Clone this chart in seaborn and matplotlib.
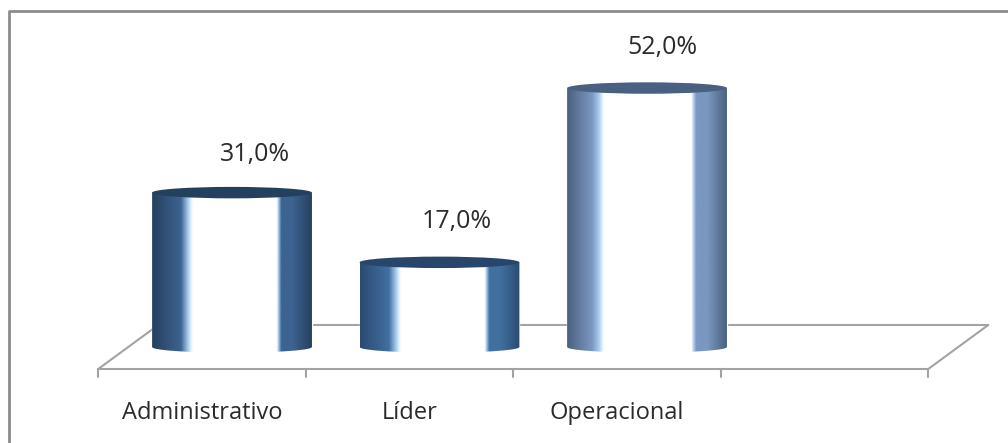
import matplotlib
matplotlib.use("Agg")
import matplotlib.pyplot as plt
import numpy as np
import pandas as pd
import seaborn as sns
from matplotlib.colors import LinearSegmentedColormap
from matplotlib.lines import Line2D
from matplotlib.patches import Ellipse, Polygon, Rectangle
from matplotlib.transforms import Affine2D

categories = ["Administrativo", "Líder", "Operacional"]
values = [31.0, 17.0, 52.0]
value_labels = ["31,0%", "17,0%", "52,0%"]

# colours of each cylinder: edge, body, cap
edge_colors = ["#26405f", "#2b4a72", "#4b6080"]
body_colors = ["#3d6391", "#41709f", "#7a97c0"]
cap_colors = ["#24405f", "#28466b", "#4a6080"]
white_start = [0.255, 0.255, 0.23]
label_dx = [23, 17, 15]
label_dy = [38, 41, 40.5]

GREY = "#a3a3a3"
FRAME = "#8c8c8c"
TEXT = "#2b2b2b"
DEPTH_X = 30  # px, half depth of the floor
DEPTH_Y = 22

sns.set_theme(style="white")
plt.rcParams["font.family"] = ["Open Sans", "DejaVu Sans"]

df = pd.DataFrame({"category": categories, "value": values})

fig = plt.figure(figsize=(10.08, 4.43), dpi=100)
ax = fig.add_axes([128.25 / 1008, 96 / 443, 830 / 1008, 298.8 / 443])
ax.patch.set_alpha(0)

sns.barplot(data=df, x="category", y="value", hue="category", palette=body_colors,
            order=categories, width=0.77, dodge=False, legend=False, ax=ax, zorder=2)

bars = [p for p in ax.patches if isinstance(p, Rectangle)]
cap_h = 2.3
for i, bar in enumerate(bars):
    x0, w, h = bar.get_x(), bar.get_width(), bar.get_height()
    ws = white_start[i]
    cmap = LinearSegmentedColormap.from_list("cyl", [
        (0.00, edge_colors[i]), (ws - 0.075, body_colors[i]),
        (ws - 0.03, "#a9cdf0"), (ws - 0.015, "#d5ebff"), (ws, "#ffffff"), (0.78, "#ffffff"),
        (0.79, "#b5d5f5"), (0.81, body_colors[i]), (0.88, body_colors[i]), (1.00, edge_colors[i])])
    t = np.linspace(np.pi, 2 * np.pi, 60)
    outline = np.vstack([[x0, h], np.column_stack([x0 + w / 2 + w / 2 * np.cos(t),
                                                   cap_h / 2 * np.sin(t)]), [x0 + w, h]])
    clip = Polygon(outline, closed=True, transform=ax.transData)
    img = ax.imshow(np.linspace(0, 1, 256).reshape(1, -1), cmap=cmap, aspect="auto",
                    extent=[x0, x0 + w, -cap_h, h], zorder=3, interpolation="bilinear")
    img.set_clip_box(fig.bbox)
    img.set_clip_path(clip)
    ax.add_patch(Ellipse((x0 + w / 2, h), w, cap_h, facecolor=cap_colors[i],
                         edgecolor="none", zorder=4))
    ax.annotate(value_labels[i], (x0 + w / 2, h),
                xytext=(label_dx[i] / 100 * 72, label_dy[i] / 100 * 72),
                textcoords="offset points", ha="center", va="center", fontsize=18,
                color=TEXT, zorder=5)

ax.set_xlim(-0.5, 3.5)
ax.set_ylim(0, 60)

# floor of the 3d chart
front = ax.transData + Affine2D().translate(-DEPTH_X, -DEPTH_Y)
back = ax.transData + Affine2D().translate(DEPTH_X, DEPTH_Y)
ax.plot([-0.5, 3.5], [0, 0], color=GREY, lw=1.5, transform=back, clip_on=False, zorder=1)
ax.plot([-0.5, 3.5], [0, 0], color=GREY, lw=1.5, transform=front, clip_on=False, zorder=1)
for xb in [-0.5, 3.5]:
    p0 = front.transform((xb, 0))
    p1 = back.transform((xb, 0))
    fig.add_artist(Line2D([p0[0], p1[0]], [p0[1], p1[1]], color=GREY, lw=1.5,
                          transform=None, zorder=0))
for xb in [-0.5, 0.5, 1.5, 2.5, 3.5]:
    p0 = front.transform((xb, 0))
    fig.add_artist(Line2D([p0[0], p0[0]], [p0[1], p0[1] - 8], color=GREY, lw=1.5,
                          transform=None, zorder=0))

ax.set_xlabel("")
ax.set_ylabel("")
ax.set_yticks([])
ax.set_xticks(range(len(categories)), categories)
ax.tick_params(axis="x", length=0, pad=39, labelsize=17, labelcolor=TEXT)
for lab in ax.get_xticklabels():
    lab.set_transform(lab.get_transform() + Affine2D().translate(-DEPTH_X, 0))
sns.despine(ax=ax, left=True, bottom=True)

# outer frame, only top and left are inside the picture
fig.add_artist(Line2D([8.5 / 1008, 8.5 / 1008, 1], [0, 1 - 11 / 443, 1 - 11 / 443],
                      transform=fig.transFigure, color=FRAME, lw=2))

fig.savefig("out.png", dpi=100)
